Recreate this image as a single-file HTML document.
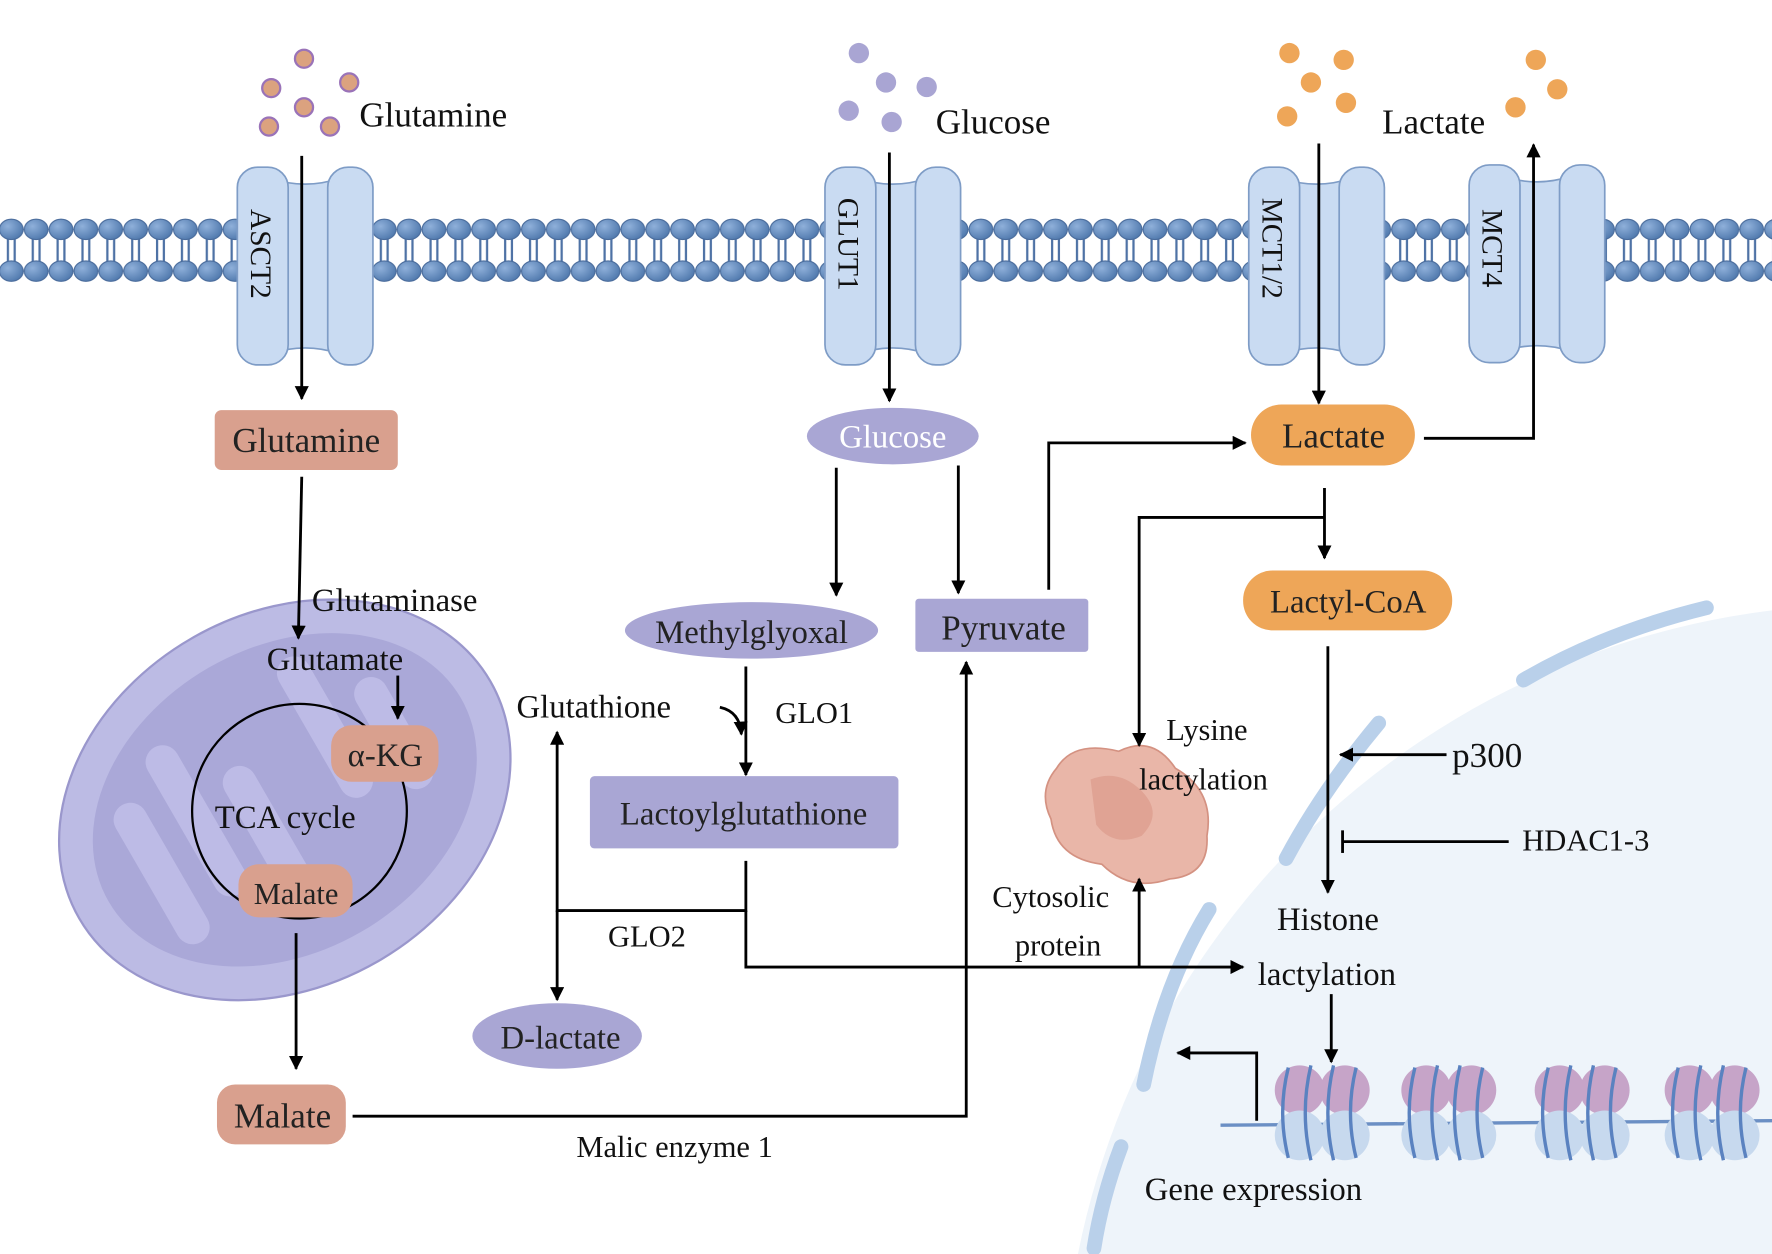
<!DOCTYPE html>
<html><head><meta charset="utf-8"><style>html,body{margin:0;padding:0;background:#fff;overflow:hidden;width:1772px;height:1254px}svg{display:block;overflow:hidden}</style></head>
<body>
<svg width="1772" height="1254" viewBox="0 0 1568 1110" preserveAspectRatio="none" xmlns="http://www.w3.org/2000/svg" font-family="'Liberation Serif', serif">
<defs>
<marker id="a" viewBox="0 0 10 10" refX="9" refY="5" markerWidth="5" markerHeight="5" orient="auto-start-reverse"><path d="M0,0 L10,5 L0,10 z" fill="#000"/></marker>
<radialGradient id="bead" cx="0.35" cy="0.35" r="0.7"><stop offset="0" stop-color="#8fb0da"/><stop offset="1" stop-color="#5079ad"/></radialGradient>
<pattern id="mem" x="-1" y="0" width="22" height="1110" patternUnits="userSpaceOnUse">
<line x1="8" y1="205" x2="8" y2="238" stroke="#4e72a5" stroke-width="2"/>
<line x1="14" y1="205" x2="14" y2="238" stroke="#4e72a5" stroke-width="2"/>
<ellipse cx="11" cy="203" rx="10.5" ry="9" fill="url(#bead)" stroke="#4a6c9c" stroke-width="1"/>
<ellipse cx="11" cy="240" rx="10.5" ry="9" fill="url(#bead)" stroke="#4a6c9c" stroke-width="1"/>
</pattern>
<clipPath id="page"><rect width="1568" height="1110"/></clipPath>
</defs>
<g clip-path="url(#page)">
<rect width="1568" height="1110" fill="#fff"/>
<!-- nucleus -->
<circle cx="1655" cy="1250" r="715" fill="#eef4fa"/>
<g fill="none" stroke="#b9d0ea" stroke-width="13" stroke-linecap="round">
<path d="M1348,602 Q1420,560 1510,538"/>
<path d="M1138,760 Q1170,700 1220,640"/>
<path d="M1070,805 Q1030,870 1012,960"/>
<path d="M992,1015 Q975,1060 968,1105"/>
</g>
<!-- membrane -->
<rect x="0" y="190" width="1568" height="62" fill="url(#mem)"/>
<!-- transporters -->
<g fill="#c9dbf2" stroke="#7e9cc6" stroke-width="1.5">
<g transform="translate(210,148)"><path d="M30,10 Q60,20 90,10 L90,165 Q60,155 30,165 z"/><rect x="0" y="0" width="45" height="175" rx="18"/><rect x="80" y="0" width="40" height="175" rx="18"/></g>
<g transform="translate(730,148)"><path d="M30,10 Q60,20 90,10 L90,165 Q60,155 30,165 z"/><rect x="0" y="0" width="45" height="175" rx="18"/><rect x="80" y="0" width="40" height="175" rx="18"/></g>
<g transform="translate(1105,148)"><path d="M30,10 Q60,20 90,10 L90,165 Q60,155 30,165 z"/><rect x="0" y="0" width="45" height="175" rx="18"/><rect x="80" y="0" width="40" height="175" rx="18"/></g>
<g transform="translate(1300,146)"><path d="M30,10 Q60,20 90,10 L90,165 Q60,155 30,165 z"/><rect x="0" y="0" width="45" height="175" rx="18"/><rect x="80" y="0" width="40" height="175" rx="18"/></g>
</g>
<g font-size="26" fill="#111">
<text transform="translate(222,185) rotate(90)">ASCT2</text>
<text transform="translate(742,175) rotate(90)">GLUT1</text>
<text transform="translate(1117,175) rotate(90)">MCT1/2</text>
<text transform="translate(1312,185) rotate(90)">MCT4</text>
</g>
<!-- dots -->
<g fill="#dba27f" stroke="#9a73b8" stroke-width="2">
<circle cx="269" cy="52" r="8"/><circle cx="240" cy="78" r="8"/><circle cx="309" cy="73" r="8"/><circle cx="269" cy="95" r="8"/><circle cx="238" cy="112" r="8"/><circle cx="292" cy="112" r="8"/>
</g>
<g fill="#a9a5d3"><circle cx="760" cy="47" r="9"/><circle cx="784" cy="73" r="9"/><circle cx="820" cy="77" r="9"/><circle cx="751" cy="98" r="9"/><circle cx="789" cy="108" r="9"/></g>
<g fill="#eea658"><circle cx="1141" cy="47" r="9"/><circle cx="1189" cy="53" r="9"/><circle cx="1160" cy="73" r="9"/><circle cx="1191" cy="91" r="9"/><circle cx="1139" cy="103" r="9"/><circle cx="1359" cy="53" r="9"/><circle cx="1378" cy="79" r="9"/><circle cx="1341" cy="95" r="9"/></g>
<g font-size="31" fill="#111">
<text x="318" y="112">Glutamine</text>
<text x="828" y="118">Glucose</text>
<text x="1223" y="118">Lactate</text>
</g>
<!-- mitochondrion -->
<g transform="rotate(-30 252 708)">
<ellipse cx="252" cy="708" rx="210" ry="165" fill="#bcbbe4" stroke="#9a97cc" stroke-width="2"/>
<ellipse cx="252" cy="708" rx="180" ry="135" fill="#aaa8d8"/>
<g fill="#bdbbe6"><rect x="110" y="640" width="30" height="140" rx="15"/><rect x="160" y="610" width="30" height="150" rx="15"/><rect x="210" y="660" width="30" height="150" rx="15"/><rect x="300" y="600" width="30" height="140" rx="15"/><rect x="350" y="650" width="30" height="110" rx="15"/></g>
</g>
<circle cx="265" cy="718" r="95" fill="none" stroke="#000" stroke-width="2"/>
<!-- nodes -->
<rect x="190" y="363" width="162" height="53" rx="6" fill="#d9a08e"/>
<text x="271" y="400" font-size="31" text-anchor="middle" fill="#222">Glutamine</text>
<ellipse cx="790" cy="386" rx="76" ry="25" fill="#a9a6d4"/>
<text x="790" y="396" font-size="29" text-anchor="middle" fill="#fff">Glucose</text>
<rect x="1107" y="358" width="145" height="54" rx="27" fill="#eea658"/>
<text x="1180" y="396" font-size="31" text-anchor="middle" fill="#222">Lactate</text>
<rect x="1100" y="505" width="185" height="53" rx="26" fill="#eea658"/>
<text x="1193" y="542" font-size="29" text-anchor="middle" fill="#222">Lactyl-CoA</text>
<rect x="810" y="530" width="153" height="47" rx="3" fill="#a9a6d4"/>
<text x="888" y="566" font-size="31" text-anchor="middle" fill="#222">Pyruvate</text>
<ellipse cx="665" cy="558" rx="112" ry="25" fill="#a9a6d4"/>
<text x="665" y="569" font-size="29" text-anchor="middle" fill="#222">Methylglyoxal</text>
<rect x="522" y="687" width="273" height="64" rx="4" fill="#a9a6d4"/>
<text x="658" y="730" font-size="29" text-anchor="middle" fill="#222">Lactoylglutathione</text>
<ellipse cx="493" cy="917" rx="75" ry="29" fill="#a9a6d4"/>
<text x="496" y="928" font-size="29" text-anchor="middle" fill="#222">D-lactate</text>
<rect x="192" y="960" width="114" height="53" rx="16" fill="#d9a08e"/>
<text x="250" y="998" font-size="31" text-anchor="middle" fill="#222">Malate</text>
<rect x="293" y="642" width="95" height="50" rx="18" fill="#d9a08e"/>
<text x="341" y="678" font-size="29" text-anchor="middle" fill="#222">α-KG</text>
<rect x="211" y="765" width="101" height="47" rx="18" fill="#d9a08e"/>
<text x="262" y="800" font-size="27" text-anchor="middle" fill="#222">Malate</text>
<!-- protein -->
<path d="M935,680 Q950,655 990,665 Q1020,650 1040,680 Q1075,700 1068,740 Q1070,775 1035,778 Q1000,790 975,765 Q935,760 930,725 Q918,700 935,680 z" fill="#e9b6a8" stroke="#d49282" stroke-width="1.5"/>
<path d="M965,690 Q990,680 1010,700 Q1030,720 1010,740 Q985,750 970,730 z" fill="#dc9b8b" opacity="0.7"/>
<!-- nucleosomes -->
<line x1="1080" y1="996" x2="1568" y2="992" stroke="#6b8fc4" stroke-width="3"/>
<g id="n1" transform="translate(1170,985)"><circle cx="-20" cy="-20" r="22" fill="#c6a4c8"/><circle cx="20" cy="-20" r="22" fill="#c6a4c8"/><circle cx="-20" cy="20" r="22" fill="#c7d9ee"/><circle cx="20" cy="20" r="22" fill="#c7d9ee"/><g fill="none" stroke="#5a82c0" stroke-width="3"><path d="M-30,-40 Q-40,0 -30,40"/><path d="M-10,-42 Q-20,0 -10,42"/><path d="M10,-42 Q0,0 10,42"/><path d="M30,-40 Q20,0 30,40"/></g></g>
<use href="#n1" transform="translate(112,0)"/>
<use href="#n1" transform="translate(230,0)"/>
<use href="#n1" transform="translate(345,0)"/>
<!-- arrows -->
<g fill="none" stroke="#000" stroke-width="2.5" marker-end="url(#a)">
<line x1="267" y1="138" x2="267" y2="353"/>
<line x1="787" y1="135" x2="787" y2="355"/>
<line x1="1167" y1="127" x2="1167" y2="357"/>
<polyline points="1260,388 1357,388 1357,128"/>
<line x1="267" y1="422" x2="264" y2="565"/>
<line x1="352" y1="598" x2="352" y2="636"/>
<line x1="262" y1="826" x2="262" y2="946"/>
<polyline points="312,988 855,988 855,586"/>
<line x1="740" y1="414" x2="740" y2="527"/>
<line x1="848" y1="412" x2="848" y2="525"/>
<polyline points="928,522 928,392 1102,392"/>
<polyline points="1172,432 1172,494"/>
<polyline points="1172,458 1008,458 1008,660"/>
<line x1="660" y1="590" x2="660" y2="686"/>
<path d="M637,626 Q655,630 656,650"/>
<polyline points="660,762 660,806 493,806 493,648"/>
<line x1="493" y1="806" x2="493" y2="885"/>
<polyline points="660,806 660,856 1100,856"/>
<line x1="1008" y1="856" x2="1008" y2="778"/>
<line x1="1175" y1="572" x2="1175" y2="790"/>
<line x1="1280" y1="668" x2="1186" y2="668"/>
<line x1="1178" y1="880" x2="1178" y2="940"/>
<polyline points="1112,992 1112,932 1042,932"/>
</g>
<g stroke="#000" stroke-width="2.5"><line x1="1335" y1="745" x2="1188" y2="745"/><line x1="1188" y1="735" x2="1188" y2="755"/></g>
<!-- labels -->
<g font-size="29" fill="#111">
<text x="276" y="541">Glutaminase</text>
<text x="236" y="593">Glutamate</text>
<text x="190" y="733">TCA cycle</text>
<text x="457" y="635">Glutathione</text>
<text x="686" y="640" font-size="27">GLO1</text>
<text x="538" y="838" font-size="27">GLO2</text>
<text x="510" y="1024" font-size="27">Malic enzyme 1</text>
<text x="1032" y="655" font-size="27">Lysine</text>
<text x="1008" y="699" font-size="27">lactylation</text>
<text x="878" y="803" font-size="27">Cytosolic</text>
<text x="898" y="846" font-size="27">protein</text>
<text x="1285" y="679" font-size="31">p300</text>
<text x="1347" y="753" font-size="27">HDAC1-3</text>
<text x="1130" y="823">Histone</text>
<text x="1113" y="872">lactylation</text>
<text x="1013" y="1062">Gene expression</text>
</g>
</g>
</svg>
</body></html>
